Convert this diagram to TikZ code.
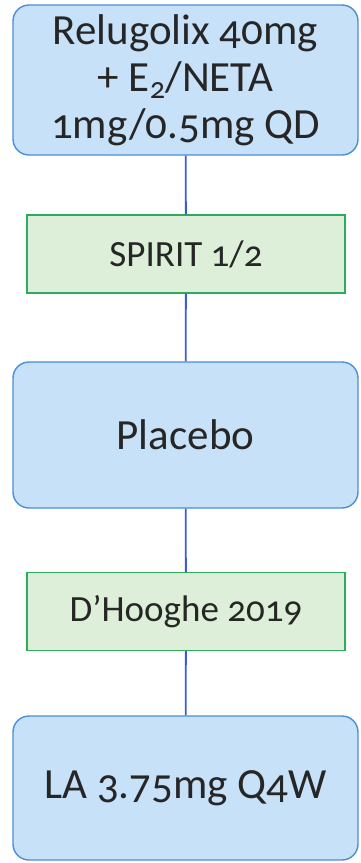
\documentclass[tikz,border=0pt]{standalone}
\usepackage{fontspec}
\setmainfont{Carlito}[Numbers=OldStyle]
\begin{document}
\begin{tikzpicture}[x=1pt,y=-1pt,
  arm/.style={draw=armline,fill=armfill,line width=1.4pt,rounded corners=16pt,
    minimum width=345pt,align=center,inner sep=0pt,
    font=\fontsize{43}{47}\selectfont,text=black!85},
  trial/.style={draw=trialline,fill=trialfill,line width=1.4pt,
    minimum width=318pt,minimum height=78pt,inner sep=0pt,
    font=\fontsize{37}{40}\selectfont,text=black!85},
  link/.style={draw=linkblue,line width=1.8pt}]
\definecolor{armfill}{HTML}{C7E1F8}
\definecolor{armline}{HTML}{4A8FD8}
\definecolor{trialfill}{HTML}{DDEFD8}
\definecolor{trialline}{HTML}{2EAA5C}
\definecolor{linkblue}{HTML}{3A5BE0}
\useasboundingbox (0,0) rectangle (360,863);
% centres of the treatment arms and the trials linking them
\coordinate (c1) at (185.5,80);
\coordinate (c2) at (186,254);
\coordinate (c3) at (185.5,435);
\coordinate (c4) at (186,611.5);
\coordinate (c5) at (185.5,788);
\node[arm,minimum height=150pt] (relu) at (c1)
  {Relugolix 40mg\\+ E\textsubscript{2}/NETA\\1mg/0.5mg QD};
\node[trial] (spirit) at (c2) {SPIRIT 1/2};
\node[arm,minimum height=146pt] (placebo) at (c3) {Placebo};
\node[trial] (dhooghe) at (c4) {D’Hooghe 2019};
\node[arm,minimum height=144pt] (la) at (c5) {LA 3.75mg Q4W};
% network edges
\draw[link] (relu) -- (spirit);
\draw[link] (spirit) -- (placebo);
\draw[link] (placebo) -- (dhooghe);
\draw[link] (dhooghe) -- (la);
\end{tikzpicture}
\end{document}
